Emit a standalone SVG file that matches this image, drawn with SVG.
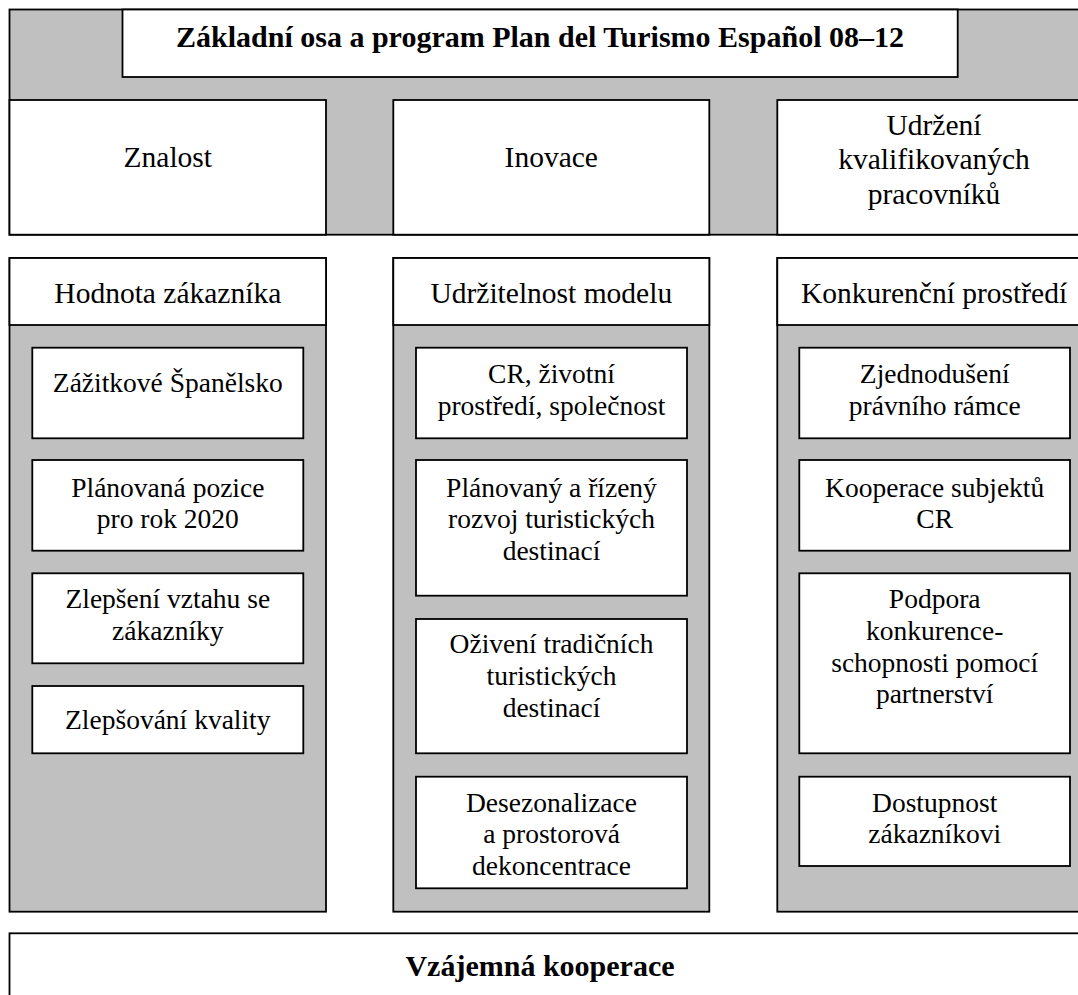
<svg xmlns="http://www.w3.org/2000/svg" width="1078" height="995" viewBox="0 0 1078 995">
  <style>
    .panel { fill: #c0c0c0; stroke: #000; stroke-width: 1.8; }
    .box { fill: #fff; stroke: #000; stroke-width: 1.8; }
    text { font-family: "Liberation Serif", Tinos, "Times New Roman", Times, "DejaVu Serif", serif; fill: #000; text-anchor: middle; }
    .hd { font-size: 29.5px; }
    .in { font-size: 27.5px; }
    .bold { font-size: 30px; font-weight: bold; }
  </style>
  <rect width="1078" height="995" fill="#fff"/>

  <!-- top band: title and the three basic axes -->
  <g id="top-band">
    <rect class="panel" x="9.5" y="9.5" width="1090" height="225.2"/>
  </g>
  <g id="title">
    <rect class="box" x="122.5" y="9.5" width="835.2" height="67.5"/>
    <text class="bold" x="540" y="46.7">Základní osa a program Plan del Turismo Español 08–12</text>
  </g>
  <g id="axis-znalost">
    <rect class="box" x="9.5" y="100" width="316.5" height="134.7"/>
    <text class="hd" x="167.8" y="166.7">Znalost</text>
  </g>
  <g id="axis-inovace">
    <rect class="box" x="393.3" y="100" width="316" height="134.7"/>
    <text class="hd" x="551.3" y="167.3">Inovace</text>
  </g>
  <g id="axis-pracovnici">
    <rect class="box" x="777.3" y="100" width="320" height="134.7"/>
    <text class="hd" x="934" y="134.7">Udržení<tspan x="934" dy="34.4">kvalifikovaných</tspan><tspan x="934" dy="34.4">pracovníků</tspan></text>
  </g>

  <!-- column 1: customer value -->
  <g id="col-hodnota">
    <rect class="panel" x="9.5" y="258" width="316.5" height="653.7"/>
    <rect class="box" x="9.5" y="258" width="316.5" height="67"/>
    <text class="hd" x="167.8" y="302.7">Hodnota zákazníka</text>
  </g>
  <g id="zazitkove-spanelsko">
    <rect class="box" x="32.3" y="347.7" width="271" height="90.6"/>
    <text class="in" x="167.8" y="391.7">Zážitkové Španělsko</text>
  </g>
  <g id="planovana-pozice">
    <rect class="box" x="32.3" y="460" width="271" height="90.7"/>
    <text class="in" x="167.8" y="496.7">Plánovaná pozice<tspan x="167.8" dy="31.7">pro rok 2020</tspan></text>
  </g>
  <g id="zlepseni-vztahu">
    <rect class="box" x="32.3" y="573.3" width="271" height="90"/>
    <text class="in" x="167.8" y="608.3">Zlepšení vztahu se<tspan x="167.8" dy="31.7">zákazníky</tspan></text>
  </g>
  <g id="zlepsovani-kvality">
    <rect class="box" x="32.3" y="686" width="271" height="67.3"/>
    <text class="in" x="167.8" y="728.8">Zlepšování kvality</text>
  </g>

  <!-- column 2: sustainability of the model -->
  <g id="col-udrzitelnost">
    <rect class="panel" x="393.3" y="258" width="316" height="653.7"/>
    <rect class="box" x="393.3" y="258" width="316" height="67"/>
    <text class="hd" x="551.3" y="302.7">Udržitelnost modelu</text>
  </g>
  <g id="cr-prostredi">
    <rect class="box" x="416" y="347.7" width="271" height="90.6"/>
    <text class="in" x="551.5" y="383.3">CR, životní<tspan x="551.5" dy="31.7">prostředí, společnost</tspan></text>
  </g>
  <g id="rozvoj-destinaci">
    <rect class="box" x="416" y="460" width="271" height="135.7"/>
    <text class="in" x="551.5" y="496.7">Plánovaný a řízený<tspan x="551.5" dy="31.7">rozvoj turistických</tspan><tspan x="551.5" dy="31.7">destinací</tspan></text>
  </g>
  <g id="oziveni-destinaci">
    <rect class="box" x="416" y="619" width="271" height="134.3"/>
    <text class="in" x="551.5" y="653.3">Oživení tradičních<tspan x="551.5" dy="31.7">turistických</tspan><tspan x="551.5" dy="31.7">destinací</tspan></text>
  </g>
  <g id="desezonalizace">
    <rect class="box" x="416" y="776.7" width="271" height="111.6"/>
    <text class="in" x="551.5" y="811.7">Desezonalizace<tspan x="551.5" dy="31.7">a prostorová</tspan><tspan x="551.5" dy="31.7">dekoncentrace</tspan></text>
  </g>

  <!-- column 3: competitive environment -->
  <g id="col-konkurence">
    <rect class="panel" x="777.3" y="258" width="320" height="653.7"/>
    <rect class="box" x="777.3" y="258" width="320" height="67"/>
    <text class="hd" x="934" y="302.7">Konkurenční prostředí</text>
  </g>
  <g id="pravni-ramec">
    <rect class="box" x="799.3" y="347.7" width="270.7" height="90.6"/>
    <text class="in" x="934.7" y="383.3">Zjednodušení<tspan x="934.7" dy="31.7">právního rámce</tspan></text>
  </g>
  <g id="kooperace-subjektu">
    <rect class="box" x="799.3" y="460" width="270.7" height="90.7"/>
    <text class="in" x="934.7" y="496.7">Kooperace subjektů<tspan x="934.7" dy="31.7">CR</tspan></text>
  </g>
  <g id="podpora-konkurenceschopnosti">
    <rect class="box" x="799.3" y="573.3" width="270.7" height="180"/>
    <text class="in" x="934.7" y="608.3">Podpora<tspan x="934.7" dy="31.7">konkurence-</tspan><tspan x="934.7" dy="31.7">schopnosti pomocí</tspan><tspan x="934.7" dy="31.7">partnerství</tspan></text>
  </g>
  <g id="dostupnost">
    <rect class="box" x="799.3" y="776.7" width="270.7" height="89.3"/>
    <text class="in" x="934.7" y="811.7">Dostupnost<tspan x="934.7" dy="31.7">zákazníkovi</tspan></text>
  </g>

  <!-- bottom band -->
  <g id="vzajemna-kooperace">
    <rect class="box" x="9.5" y="933.3" width="1090" height="80"/>
    <text class="bold" x="540" y="976">Vzájemná kooperace</text>
  </g>
</svg>
